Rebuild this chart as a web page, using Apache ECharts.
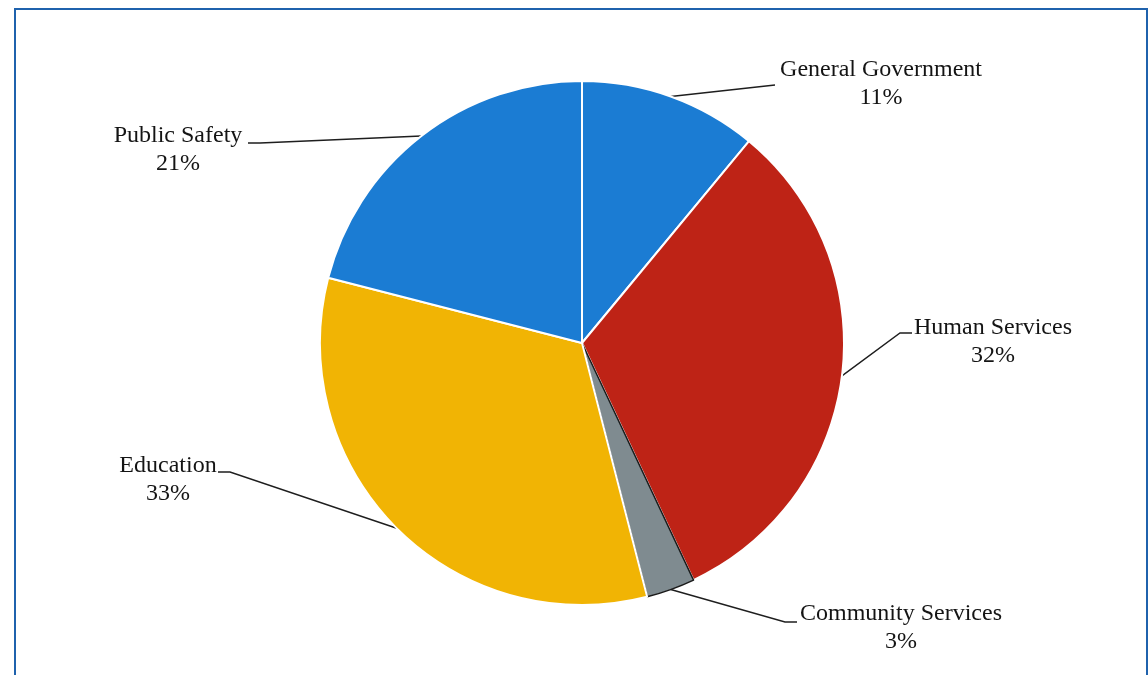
<!DOCTYPE html>
<html>
<head>
<meta charset="utf-8">
<script src="https://cdn.jsdelivr.net/npm/echarts@6/dist/echarts.min.js"></script>
<style>
  html, body { margin: 0; padding: 0; background: #fff; }
  #frame { position: absolute; left: 14px; top: 8px; width: 1130px; height: 700px;
           border-left: 2px solid #1f62ad; border-top: 2px solid #1f62ad; border-right: 2px solid #1f62ad; }
  #chart { position: absolute; left: 0; top: 0; width: 1148px; height: 675px; }
</style>
</head>
<body>
<div id="frame"></div>
<div id="chart"></div>
<script>
// ---- data ----
const categories = ['General Government', 'Human Services', 'Community Services', 'Education', 'Public Safety'];
const values = [11, 32, 3, 33, 21];

// ---- styles / layout (kept separate from data) ----
const colors = ['#1b7cd3', '#be2316', '#7f8b90', '#f1b404', '#1b7cd3'];
// label block centre [x, y] and label-line elbow / end points
const labelCentres = [[881, 84], [993, 342], [901, 628], [168, 480], [178, 150]];
const lineElbows   = [[775, 85], [900, 333], [785, 622], [230, 472], [260, 143]];
const lineEnds     = [[775, 85], [912, 333], [797, 622], [218, 472], [248, 143]];

const chart = echarts.init(document.getElementById('chart'), null, { renderer: 'canvas' });

const data = categories.map((name, i) => ({
  name: name,
  value: values[i],
  itemStyle: i === 2
    ? { color: colors[i], borderColor: '#1a1a1a', borderWidth: 1.5 }
    : { color: colors[i], borderColor: '#ffffff', borderWidth: 2 }
}));

chart.setOption({
  backgroundColor: 'transparent',
  animation: false,
  series: [{
    type: 'pie',
    center: [582, 343],
    radius: 262,
    startAngle: 90,
    clockwise: true,
    data: data,
    label: {
      show: true,
      formatter: '{b}\n{c}%',
      fontFamily: '"Liberation Serif", "DejaVu Serif", serif',
      fontSize: 24,
      lineHeight: 28,
      color: '#141414',
      align: 'center'
    },
    labelLine: {
      show: true,
      length: 20,
      length2: 10,
      lineStyle: { color: '#1e1e1e', width: 1.4 }
    },
    labelLayout: function (params) {
      const i = params.dataIndex;
      const pts = params.labelLinePoints;
      const start = pts ? pts[0] : lineElbows[i];
      return {
        x: labelCentres[i][0],
        y: labelCentres[i][1],
        align: 'center',
        verticalAlign: 'middle',
        labelLinePoints: [start, lineElbows[i], lineEnds[i]]
      };
    },
    emphasis: { disabled: true }
  }]
});
</script>
</body>
</html>
